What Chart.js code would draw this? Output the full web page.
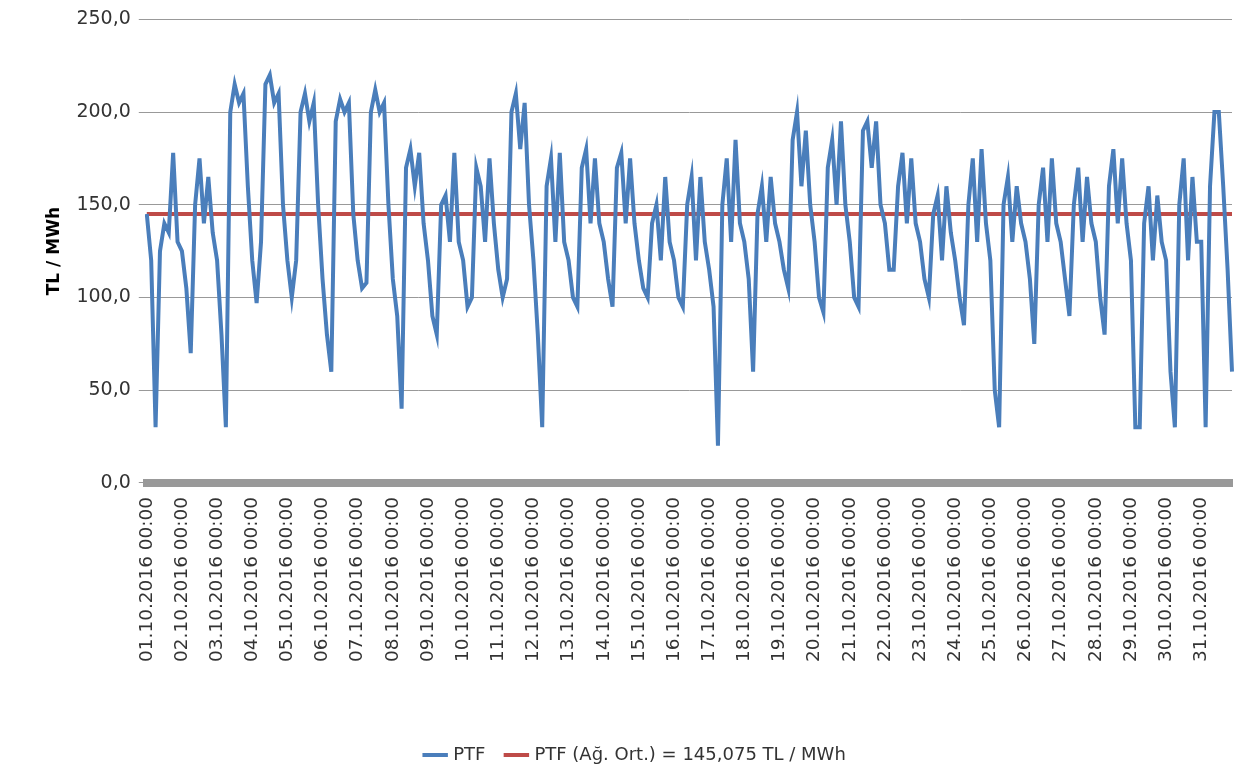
<!DOCTYPE html>
<html>
<head>
<meta charset="utf-8">
<script src="https://cdn.jsdelivr.net/npm/chart.js@4"></script>
<style>
  body { margin: 0; background: #fff; }
  #wrap { width: 1237px; height: 776px; }
</style>
</head>
<body>
<div id="wrap"><canvas id="myChart"></canvas></div>
<script>
// one value every 3 hours (00,03,...,21) for each day of Oct 2016
var days = [];
for (var d = 1; d <= 31; d++) days.push((d < 10 ? "0" : "") + d + ".10.2016");
var hours = ["00:00", "03:00", "06:00", "09:00", "12:00", "15:00", "18:00", "21:00"];
var ptf = [
  145,120,30,125,140,135,178,130,
  125,105,70,150,175,140,165,135,
  120,80,30,200,215,205,210,160,
  120,97,130,215,220,205,210,150,
  120,100,120,200,210,195,205,150,
  110,80,60,195,207,200,205,145,
  120,105,108,200,212,200,205,150,
  110,90,40,170,180,160,178,140,
  120,90,80,150,155,130,178,130,
  120,95,100,170,160,130,175,140,
  115,100,110,200,210,180,205,150,
  120,80,30,160,175,130,178,130,
  120,100,95,170,180,140,175,140,
  130,110,95,170,178,140,175,140,
  120,105,100,140,150,120,165,130,
  120,100,95,150,165,120,165,130,
  115,95,20,150,175,130,185,140,
  130,110,60,145,160,130,165,140,
  130,115,105,185,200,160,190,150,
  130,100,92,170,185,150,195,150,
  130,100,95,190,195,170,195,150,
  140,115,115,160,178,140,175,140,
  130,110,100,145,155,120,160,135,
  120,100,85,150,175,130,180,140,
  120,50,30,150,165,130,160,140,
  130,110,75,150,170,130,175,140,
  130,110,90,150,170,130,165,140,
  130,100,80,160,180,140,175,140,
  120,30,30,140,160,120,155,130,
  120,60,30,150,175,120,165,130,
  130,30,160,200,200,160,115,60
];
var average = 145.075;

var labels = [];
days.forEach(function (day) {
  hours.forEach(function (h) { labels.push(day + " " + h); });
});
var avgLine = labels.map(function () { return average; });

function comma(v, n) { return v.toFixed(n).replace(".", ","); }

new Chart("myChart", {
  type: "line",
  data: {
    labels: labels,
    datasets: [
      { label: "PTF", data: ptf, borderColor: "#4a7ebb", borderWidth: 4, pointRadius: 0, tension: 0 },
      { label: "PTF (Ağ. Ort.) = " + comma(average, 3) + " TL / MWh", data: avgLine,
        borderColor: "#be4b48", borderWidth: 4, pointRadius: 0 }
    ]
  },
  options: {
    responsive: true,
    maintainAspectRatio: false,
    animation: false,
    layout: { padding: { top: 1, right: 5, left: 40, bottom: 2 } },
    plugins: {
      legend: {
        position: "bottom",
        labels: { usePointStyle: true, pointStyle: "line", boxWidth: 60, color: "#333",
                  font: { family: "DejaVu Sans", size: 18 }, padding: 22 }
      },
      tooltip: { enabled: false }
    },
    scales: {
      x: {
        grid: { display: false },
        border: { color: "#999", width: 8 },
        ticks: {
          autoSkip: false, maxRotation: 90, minRotation: 90, color: "#333", padding: 6,
          font: { family: "DejaVu Sans", size: 18.5 },
          callback: function (v, i) { return i % 8 === 0 ? labels[i] : null; }
        },
        afterFit: function (scale) { scale.height += 56; }
      },
      y: {
        min: 0, max: 250,
        grid: { color: "#999" },
        border: { display: false },
        ticks: { stepSize: 50, color: "#333", padding: 8, font: { family: "DejaVu Sans", size: 19 },
                 callback: function (v) { return comma(v, 1); } },
        title: { display: true, text: "TL / MWh", color: "#000",
                 font: { family: "DejaVu Sans", size: 17, weight: "bold" } }
      }
    }
  }
});
</script>
</body>
</html>
